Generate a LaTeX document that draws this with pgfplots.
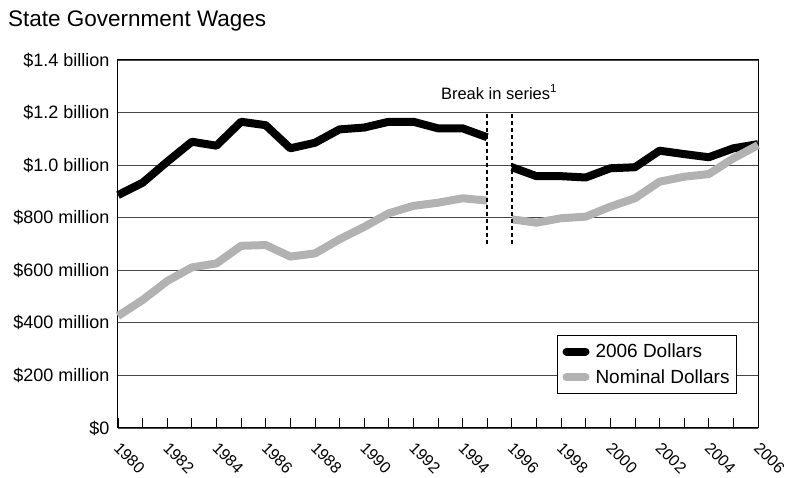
\documentclass[border=0pt]{standalone}
\usepackage{fontspec}
\setmainfont{Liberation Sans}
\usepackage{pgfplots}
\pgfplotsset{compat=1.18}
\definecolor{nomgray}{RGB}{178,178,178}
\definecolor{gridc}{RGB}{70,70,70}
\begin{document}
\begin{tikzpicture}
\path[use as bounding box] (-118pt,-50pt) rectangle (668pt,428pt);
\node[anchor=base west, inner sep=0pt, font=\fontsize{22.5}{26}\selectfont] at (-110pt,401pt) {State Government Wages};
\begin{axis}[
  at={(0,0)}, anchor=south west,
  scale only axis, width=640pt, height=368pt,
  xmin=1980, xmax=2006, ymin=0, ymax=1.4,
  clip=false,
  axis line style={line width=1pt},
  xtick={1980,1982,1984,1986,1988,1990,1992,1994,1996,1998,2000,2002,2004,2006},
  xticklabels={1980,1982,1984,1986,1988,1990,1992,1994,1996,1998,2000,2002,2004,2006},
  minor xtick={1981,1983,1985,1987,1989,1991,1993,1995,1997,1999,2001,2003,2005},
  xtick pos=lower,
  tick align=inside,
  major tick length=10pt, minor tick length=10pt,
  x tick style={black, line width=0.8pt},
  xticklabel style={xshift=3pt, yshift=-13pt, rotate=-45, anchor=north west, inner sep=0pt, font=\fontsize{16}{18}\selectfont},
  ytick={0,0.2,0.4,0.6,0.8,1.0,1.2,1.4},
  yticklabels={\$0,\$200 million,\$400 million,\$600 million,\$800 million,\$1.0 billion,\$1.2 billion,\$1.4 billion},
  yticklabel style={font=\fontsize{18}{20}\selectfont, xshift=-5pt},
  y tick style={draw=none},
  ymajorgrids,
  grid style={gridc, line width=0.8pt},
  unbounded coords=jump,
  legend style={at={(1,0)}, anchor=south east, xshift=-21pt, yshift=34pt,
    draw=black, line width=0.8pt, fill=white,
    font=\fontsize{19}{21}\selectfont, inner xsep=5pt, inner ysep=7pt,
    row sep=6pt, /tikz/every odd column/.append style={column sep=4pt}},
  legend cell align=left,
  legend image code/.code={\draw[#1, line cap=round] (0pt,0pt) -- (19pt,0pt);},
]
\addplot[black, line width=8pt, line join=round] coordinates {
(1980,0.886) (1981,0.933) (1982,1.013) (1983,1.089) (1984,1.074) (1985,1.165)
(1986,1.152) (1987,1.064) (1988,1.085) (1989,1.136) (1990,1.143) (1991,1.165)
(1992,1.165) (1993,1.140) (1994,1.140) (1995,1.106) (1995.5,nan)
(1996,0.992) (1997,0.958) (1998,0.958) (1999,0.953) (2000,0.988) (2001,0.992)
(2002,1.055) (2003,1.042) (2004,1.030) (2005,1.064) (2006,1.080)};
\addlegendentry{2006 Dollars}
\addplot[nomgray, line width=8pt, line join=round] coordinates {
(1980,0.426) (1981,0.487) (1982,0.559) (1983,0.611) (1984,0.626) (1985,0.693)
(1986,0.696) (1987,0.652) (1988,0.664) (1989,0.718) (1990,0.765) (1991,0.817)
(1992,0.845) (1993,0.857) (1994,0.874) (1995,0.865) (1995.5,nan)
(1996,0.794) (1997,0.781) (1998,0.798) (1999,0.804) (2000,0.842) (2001,0.874)
(2002,0.937) (2003,0.956) (2004,0.966) (2005,1.026) (2006,1.076)};
\addlegendentry{Nominal Dollars\hspace{15pt}}
\addplot[forget plot, black, line width=2pt, dash pattern=on 4pt off 3pt] coordinates {(1995,0.70) (1995,1.2)};
\addplot[forget plot, black, line width=2pt, dash pattern=on 4pt off 3pt] coordinates {(1996,0.70) (1996,1.2)};
\node[anchor=base, inner sep=0pt, font=\fontsize{16.5}{19}\selectfont] at (axis cs:1995.48,1.251) {Break in series\textsuperscript{1}};
\end{axis}
\end{tikzpicture}
\end{document}
